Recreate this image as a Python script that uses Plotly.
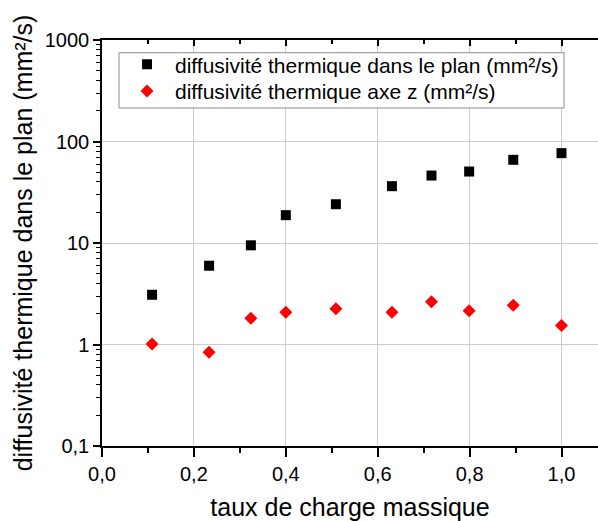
import plotly.graph_objects as go

# Data
taux = [0.109, 0.233, 0.324, 0.400, 0.509, 0.631, 0.717, 0.799, 0.895, 1.0]
diff_plan = [3.09, 5.97, 9.49, 18.8, 24.1, 36.3, 46.2, 50.6, 66.0, 76.8]
diff_z = [1.01, 0.84, 1.81, 2.08, 2.25, 2.08, 2.63, 2.15, 2.44, 1.54]

name_plan = "diffusivité thermique dans le plan (mm²/s)"
name_z = "diffusivité thermique axe z (mm²/s)"
x_title = "taux de charge massique"
y_title = "diffusivité thermique dans le plan (mm²/s)"

FONT = "Arial, Liberation Sans, sans-serif"
W, H = 598, 521
ML, MR, MT, MB = 102, 0, 40, 75
XMAX = 1.0794
PW, PH = W - ML - MR, H - MT - MB


def px_x(p):
    return (p - ML) / PW


def px_y(p):
    return (H - MB - p) / PH


fig = go.Figure()
fig.add_trace(go.Scatter(x=taux, y=diff_plan, mode="markers", name=name_plan,
                         legend="legend",
                         marker=dict(symbol="square", size=10, color="black")))
fig.add_trace(go.Scatter(x=taux, y=diff_z, mode="markers", name=name_z,
                         legend="legend2",
                         marker=dict(symbol="diamond", size=10, color="red")))

leg_common = dict(xanchor="left", yanchor="middle", bgcolor="rgba(0,0,0,0)",
                  borderwidth=0, font=dict(size=21, family=FONT), itemwidth=46)

fig.update_layout(
    width=W, height=H,
    margin=dict(l=ML, r=MR, t=MT, b=MB, pad=0),
    paper_bgcolor="white", plot_bgcolor="white",
    separators=", ",
    font=dict(family=FONT, color="black", size=20),
    showlegend=True,
    legend=dict(x=px_x(119), y=px_y(64.7), **leg_common),
    legend2=dict(x=px_x(119), y=px_y(91.3), **leg_common),
    xaxis=dict(range=[0, XMAX], dtick=0.2, tick0=0, tickformat=".1f",
               showline=True, linecolor="black", linewidth=1.5, mirror=False,
               ticks="outside", ticklen=9, tickwidth=1.5, tickcolor="black",
               minor=dict(dtick=0.1, tick0=0, ticks="outside", ticklen=5,
                          tickwidth=1.5, tickcolor="black", showgrid=False),
               showgrid=True, gridcolor="#cccccc", gridwidth=1,
               zeroline=False,
               tickfont=dict(size=20),
               title=dict(text=x_title, font=dict(size=25), standoff=20)),
    xaxis2=dict(range=[0, XMAX], overlaying="x", side="top", anchor="y",
                dtick=0.2, tick0=0, showticklabels=False,
                showline=True, linecolor="black", linewidth=1.5,
                ticks="inside", ticklen=6, tickwidth=1.5, tickcolor="black",
                minor=dict(dtick=0.1, tick0=0, ticks="inside", ticklen=4,
                           tickwidth=1.5, tickcolor="black", showgrid=False),
                showgrid=False, zeroline=False),
    yaxis=dict(type="log", range=[-1, 3], dtick=1,
               showline=True, linecolor="black", linewidth=1.5, mirror=False,
               ticks="outside", ticklen=7, tickwidth=1.5, tickcolor="black",
               minor=dict(ticks="outside", ticklen=4, tickwidth=1.2,
                          tickcolor="black", showgrid=False),
               showgrid=True, gridcolor="#cccccc", gridwidth=1,
               zeroline=False,
               tickfont=dict(size=20),
               title=dict(text=y_title, font=dict(size=25), standoff=5)),
    shapes=[dict(type="rect", xref="paper", yref="paper",
                 x0=px_x(119), x1=px_x(564), y0=px_y(108), y1=px_y(52.7),
                 line=dict(color="#8c8c8c", width=1), fillcolor="white",
                 layer="above")],
)

# invisible trace so the top axis is rendered
fig.add_trace(go.Scatter(x=[0], y=[1], xaxis="x2", mode="markers",
                         marker=dict(opacity=0), showlegend=False, hoverinfo="skip"))

fig.write_html("out.html")
